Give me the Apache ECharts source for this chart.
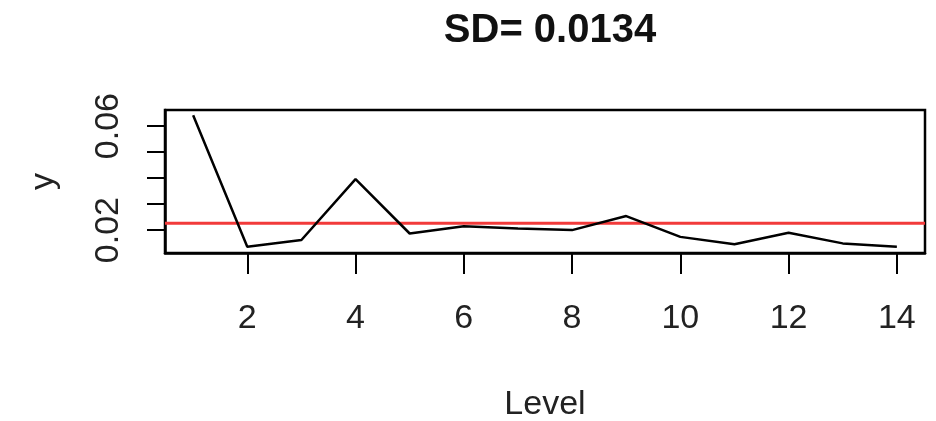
<!DOCTYPE html>
<html>
<head>
<meta charset="utf-8">
<script src="https://cdn.jsdelivr.net/npm/echarts@6/dist/echarts.min.js"></script>
<style>
  html, body { margin: 0; padding: 0; background: #fff; }
  #chart { width: 936px; height: 421px; }
</style>
</head>
<body>
<div id="chart"></div>
<script>
// data
var levels = [1, 2, 3, 4, 5, 6, 7, 8, 9, 10, 11, 12, 13, 14];
var yValues = [0.0642, 0.0136, 0.0162, 0.0396, 0.0187, 0.0215, 0.0206, 0.0200, 0.0254, 0.0174, 0.0146, 0.0190, 0.0149, 0.0136];
var refLine = 0.0226;
var xMin = 0.48, xMax = 14.52;
var xTicks = [2, 4, 6, 8, 10, 12, 14];
var yTicks = [0.02, 0.03, 0.04, 0.05, 0.06];
var yLabels = [0.02, 0.06];
var titleText = 'SD= 0.0134';

var FONT = "'Liberation Sans Narrow', 'Arial Narrow', 'Liberation Sans', Arial, sans-serif";

var pts = levels.map(function (x, i) { return [x, yValues[i]]; });
var refPts = [[xMin, refLine], [xMax, refLine]];  // abline across the whole plot

var chart = echarts.init(document.getElementById('chart'));
chart.setOption({
    animation: false,
    backgroundColor: '#fff',
    title: {
        text: titleText,
        left: 545,
        top: 6,
        textAlign: 'center',
        textStyle: { fontFamily: FONT, fontSize: 40, fontWeight: 'bold', color: '#111' }
    },
    grid: {
        left: 165, right: 11, top: 110, bottom: 168,
        outerBoundsMode: 'none',
        containLabel: false,
        show: true, borderColor: '#000', borderWidth: 2.5, backgroundColor: '#fff'
    },
    xAxis: {
        type: 'value',
        min: xMin, max: xMax,
        name: 'Level',
        nameLocation: 'middle',
        nameGap: 135,
        nameTextStyle: { fontFamily: FONT, fontSize: 34, color: '#222' },
        axisLine: { show: true, lineStyle: { color: '#000', width: 2.5 } },
        axisTick: { show: true, length: 21, customValues: xTicks, lineStyle: { color: '#000', width: 2 } },
        axisLabel: { customValues: xTicks, margin: 49, fontFamily: FONT, fontSize: 34, color: '#222' },
        splitLine: { show: false }
    },
    yAxis: {
        type: 'value',
        min: 0.0112, max: 0.0662,
        name: 'y',
        nameLocation: 'middle',
        nameRotate: 90,
        nameGap: 104,
        nameTextStyle: { fontFamily: FONT, fontSize: 34, color: '#222' },
        axisLine: { show: true, lineStyle: { color: '#000', width: 2.5 } },
        axisTick: { show: true, length: 18, customValues: yTicks, lineStyle: { color: '#000', width: 2 } },
        axisLabel: {
            customValues: yLabels, rotate: 90, margin: 39,
            fontFamily: FONT, fontSize: 34, color: '#222',
            formatter: function (v) { return v.toFixed(2); }
        },
        splitLine: { show: false }
    },
    series: [{
        type: 'line',
        data: refPts,
        symbol: 'none',
        silent: true,
        lineStyle: { color: '#f23a3a', width: 3 }
    }, {
        type: 'line',
        data: pts,
        symbol: 'none',
        lineStyle: { color: '#000', width: 2.5 }
    }]
});
</script>
</body>
</html>
